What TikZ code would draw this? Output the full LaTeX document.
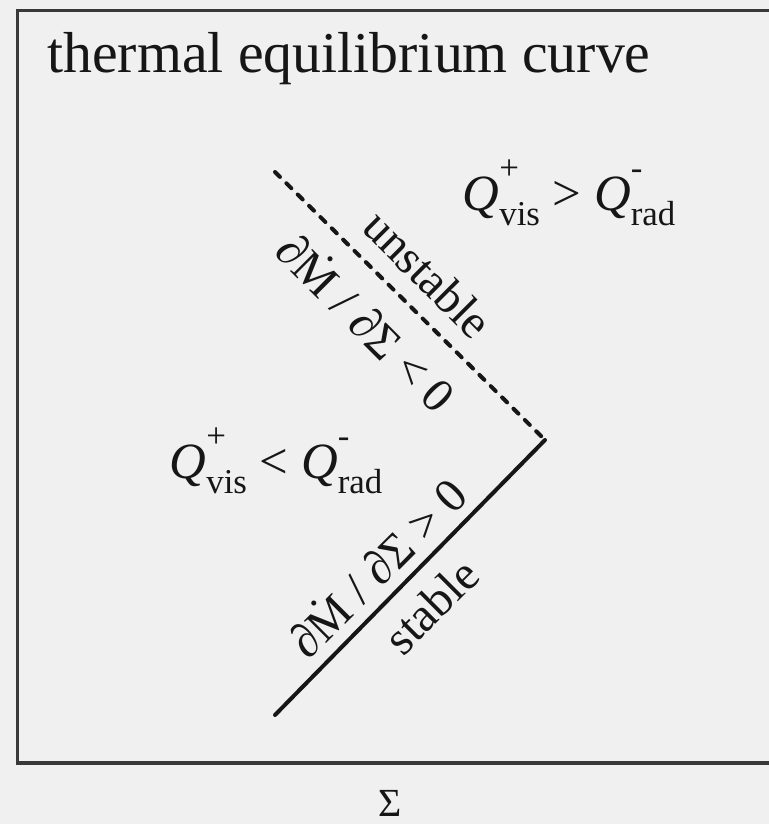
\documentclass[tikz,border=0pt]{standalone}
\usepackage{fontspec}
\setmainfont{Liberation Serif}
\usepackage{tikz}
\usetikzlibrary{positioning}

\definecolor{paper}{RGB}{240,240,240}
\definecolor{ink}{RGB}{22,22,22}

\newcommand{\subsz}{\fontsize{35}{35}\selectfont}
\newcommand{\heat}[2]{\textit{Q}\rlap{\raisebox{0.6em}{\subsz #1}}\raisebox{-0.3em}{\subsz #2}}

\begin{document}
\begin{tikzpicture}[x=1bp, y=-1bp,
  lbl/.style={font=\fontsize{48}{52}\selectfont, inner sep=0pt, text=ink},
  qlbl/.style={lbl, font=\fontsize{51}{54}\selectfont},
  branch/.style={line width=4bp, draw=ink, line cap=round},
  edge/.style={draw=ink!85, line width=3bp},
]

% === Paper and frame ===
\fill[paper] (0,0) rectangle (769,824);
\useasboundingbox (0,0) rectangle (769,824);
\draw[edge] (775,10) -- (17,10) -- (17,763);
\draw[edge, line width=4bp] (15.5,763) -- (775,763);

% === Title ===
\node[lbl, font=\fontsize{58}{60}\selectfont, anchor=base west] (title) at (47,72) {thermal equilibrium curve};

% === Equilibrium branches ===
\coordinate (hot) at (275,172);
\coordinate (knee) at (545,440);
\coordinate (cold) at (275,715);
\draw[branch, dash pattern=on 7bp off 9bp] (hot) -- (knee);
\draw[branch] (knee) -- (cold);

% === Branch labels ===
\node[lbl, rotate=-45] (unst) at (428,274) {unstable};
\node[lbl, rotate=-45] (neg) at (368,321) {∂Ṁ / ∂Σ < 0};
\node[lbl, rotate=45] (pos) at (376,566) {∂Ṁ / ∂Σ > 0};
\node[lbl, rotate=45] (stab) at (431,606) {stable};

% === Heating vs cooling regions ===
\node[qlbl] (heating) at (569,193) {\heat{+}{vis} > \heat{-}{rad}};
\node[qlbl] (cooling) at (276,461) {\heat{+}{vis} < \heat{-}{rad}};

% === Axis ===
\node[lbl, font=\fontsize{40}{40}\selectfont] (sigma) at (390,803) {Σ};

\end{tikzpicture}
\end{document}
